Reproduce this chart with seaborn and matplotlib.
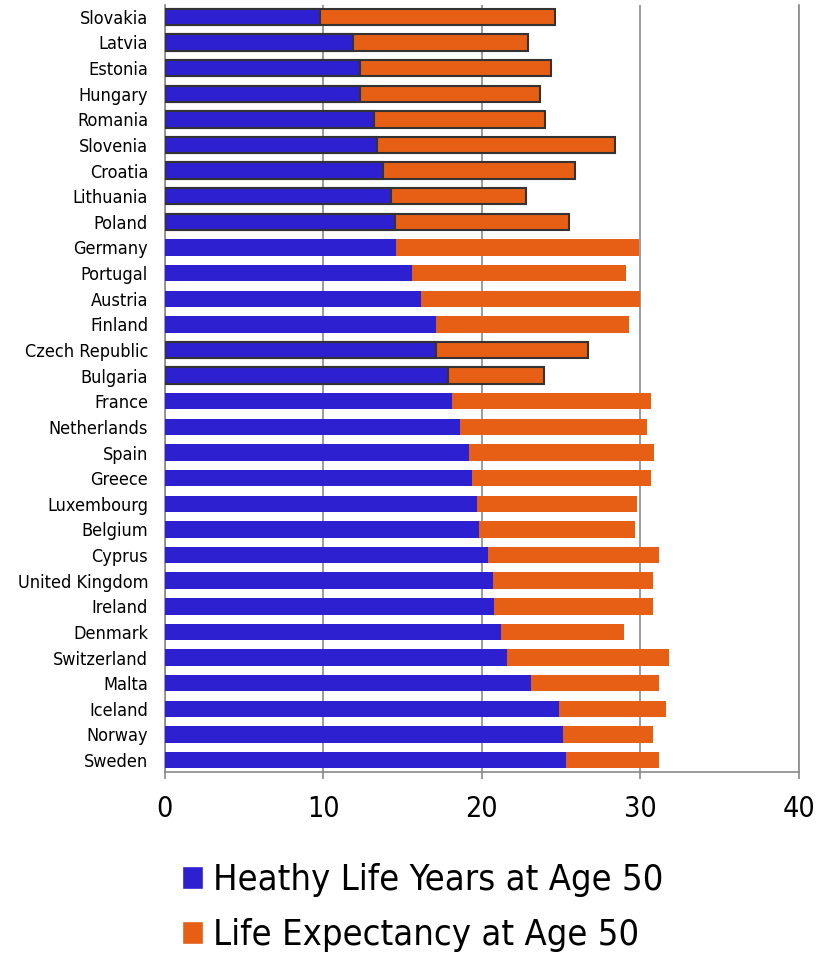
import matplotlib
matplotlib.use("Agg")
import matplotlib.pyplot as plt
import seaborn as sns
from matplotlib.patches import Patch

countries = ["Slovakia", "Latvia", "Estonia", "Hungary", "Romania", "Slovenia",
             "Croatia", "Lithuania", "Poland", "Germany", "Portugal", "Austria",
             "Finland", "Czech Republic", "Bulgaria", "France", "Netherlands",
             "Spain", "Greece", "Luxembourg", "Belgium", "Cyprus",
             "United Kingdom", "Ireland", "Denmark", "Switzerland", "Malta",
             "Iceland", "Norway", "Sweden"]
healthy_years = [9.8, 11.9, 12.3, 12.3, 13.2, 13.4, 13.8, 14.3, 14.5, 14.6,
                 15.6, 16.2, 17.1, 17.1, 17.9, 18.1, 18.6, 19.2, 19.4, 19.7,
                 19.8, 20.4, 20.7, 20.8, 21.2, 21.6, 23.1, 24.9, 25.1, 25.3]
life_expectancy = [24.6, 22.9, 24.4, 23.7, 24.0, 28.4, 25.9, 22.8, 25.5, 29.9,
                   29.1, 30.0, 29.3, 26.7, 23.9, 30.7, 30.4, 30.9, 30.7, 29.8,
                   29.7, 31.2, 30.8, 30.8, 29.0, 31.8, 31.2, 31.6, 30.8, 31.2]
outlined = {"Slovakia", "Latvia", "Estonia", "Hungary", "Romania", "Slovenia",
            "Croatia", "Lithuania", "Poland", "Czech Republic", "Bulgaria"}

blue = "#2C20D0"
orange = "#E65F14"

sns.set_style("white")
plt.rcParams["font.family"] = ["DejaVu Sans"]
plt.rcParams["text.color"] = "black"

fig = plt.figure(figsize=(8.32, 9.55), dpi=100)
ax = fig.add_axes([0.198, 0.192, 0.762, 0.803])

# orange = full life expectancy, blue drawn over it
sns.barplot(x=life_expectancy, y=countries, color=orange, saturation=1,
            orient="h", width=0.64, ax=ax, zorder=2)
sns.barplot(x=healthy_years, y=countries, color=blue, saturation=1,
            orient="h", width=0.64, ax=ax, zorder=3)

n = len(countries)
for i, p in enumerate(ax.patches):
    name = countries[i % n]
    if name in outlined:
        p.set_edgecolor("#333333")
        p.set_linewidth(1.5)
    else:
        p.set_linewidth(0)

ax.set_xlim(0, 40)
ax.set_ylim(n - 0.55, -0.47)
ax.set_xticks([0, 10, 20, 30, 40])
ax.set_xlabel("")
ax.set_ylabel("")

ax.grid(axis="x", color="#8a8a8a", linewidth=1.2, zorder=0)
ax.set_axisbelow(True)
for s in ["left", "bottom", "right"]:
    ax.spines[s].set_color("#8a8a8a")
    ax.spines[s].set_linewidth(1.2)
ax.spines["top"].set_visible(False)

ax.tick_params(axis="y", length=0, pad=12, labelsize=13, labelcolor="black")
ax.tick_params(axis="x", length=5, width=1.2, color="#8a8a8a", pad=12,
               labelsize=20.5, labelcolor="black", bottom=True)
for t in ax.get_yticklabels() + ax.get_xticklabels():
    t.set_fontstretch("condensed")

handles = [Patch(facecolor=blue, label="Heathy Life Years at Age 50"),
           Patch(facecolor=orange, label="Life Expectancy at Age 50")]
leg = fig.legend(handles=handles, loc="upper left",
                 bbox_to_anchor=(0.197, 0.115), frameon=False, borderpad=0,
                 fontsize=26, handlelength=0.58, handleheight=0.58,
                 handletextpad=0.27, labelspacing=0.58)
for t in leg.get_texts():
    t.set_fontstretch("condensed")
    t.set_color("black")

fig.savefig("out.png", dpi=100)
